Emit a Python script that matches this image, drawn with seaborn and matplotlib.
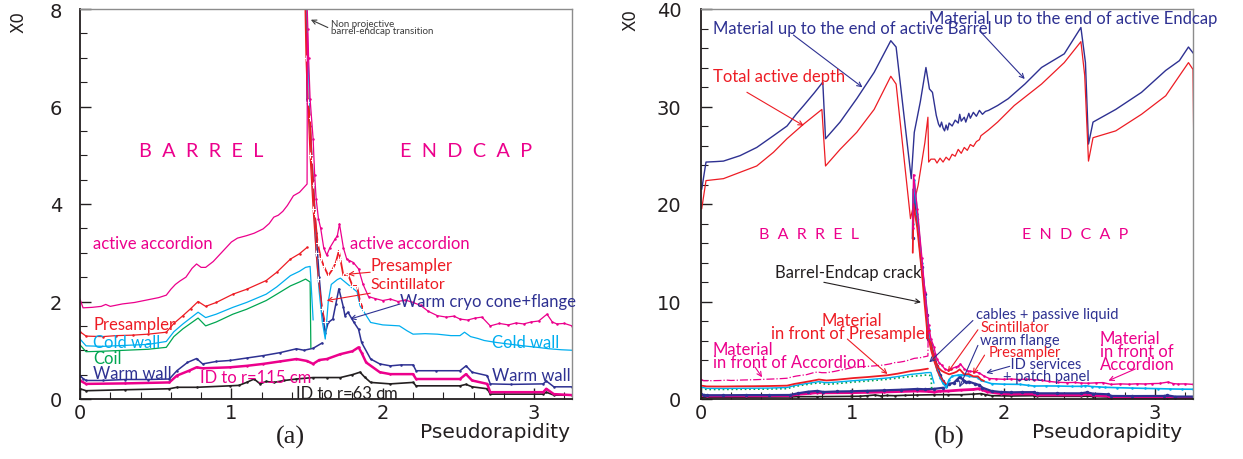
import numpy as np
import pandas as pd
import matplotlib
matplotlib.use("Agg")
import matplotlib.pyplot as plt
from matplotlib.ticker import MultipleLocator
import seaborn as sns

# ---------------- material profiles (X0 versus pseudorapidity) ----------------
# cumulative material in front of the active accordion, barrel side
acc_barrel_eta = [0.0, 0.02, 0.08, 0.14, 0.17, 0.20, 0.28, 0.36, 0.44, 0.52, 0.57, 0.60, 0.63, 0.66,
                  0.70, 0.74, 0.77, 0.80, 0.83, 0.88, 0.94, 1.00, 1.04, 1.10, 1.15, 1.21, 1.25, 1.28,
                  1.31, 1.34, 1.37, 1.41, 1.45, 1.50, 1.502]
acc_barrel_x0 = [2.05, 1.87, 1.88, 1.90, 1.94, 1.90, 1.95, 1.98, 2.03, 2.08, 2.13, 2.25, 2.35, 2.42,
                 2.50, 2.68, 2.77, 2.70, 2.70, 2.82, 3.02, 3.22, 3.30, 3.35, 3.40, 3.49, 3.60, 3.73,
                 3.77, 3.85, 3.97, 4.17, 4.24, 4.41, 7.5]
# crack peak and endcap side
acc_endcap_eta = [1.40, 1.405, 1.43, 1.46, 1.48, 1.495, 1.505, 1.51, 1.52, 1.54, 1.55, 1.56, 1.575,
                  1.59, 1.61, 1.63, 1.65, 1.685, 1.70, 1.714, 1.74, 1.762, 1.78, 1.806, 1.84, 1.87,
                  1.906, 1.95, 2.00, 2.05, 2.10, 2.15, 2.20, 2.25, 2.30, 2.36, 2.42, 2.47, 2.51,
                  2.56, 2.61, 2.655, 2.71, 2.77, 2.83, 2.88, 2.93, 2.98, 3.03, 3.085, 3.12, 3.15,
                  3.20, 3.25]
acc_endcap_x0 = [17.5, 23.0, 19.5, 14.5, 11.0, 8.6, 7.6, 7.0, 6.15, 5.33, 4.6, 4.1, 3.7,
                 3.5, 3.1, 2.95, 3.1, 3.28, 3.35, 3.59, 3.1, 2.87, 2.84, 2.80, 2.67, 2.35,
                 2.10, 2.06, 2.02, 2.05, 2.00, 2.03, 1.98, 1.92, 1.80, 1.71, 1.68, 1.70, 1.64,
                 1.62, 1.66, 1.68, 1.50, 1.55, 1.52, 1.56, 1.54, 1.58, 1.60, 1.74, 1.58, 1.54,
                 1.55, 1.50]

# presampler
ps_barrel_eta = [0.0, 0.04, 0.15, 0.24, 0.35, 0.45, 0.57, 0.62, 0.68, 0.73, 0.78, 0.83, 0.90,
                 1.01, 1.10, 1.23, 1.30, 1.39, 1.45, 1.50]
ps_barrel_x0 = [1.38, 1.29, 1.28, 1.30, 1.31, 1.33, 1.37, 1.55, 1.71, 1.85, 2.00, 1.90, 1.98,
                2.15, 2.25, 2.43, 2.60, 2.87, 2.98, 3.11]
ps_endcap_eta = [1.40, 1.405, 1.43, 1.46, 1.48, 1.495, 1.505, 1.52, 1.53, 1.54, 1.55, 1.57, 1.59,
                 1.61, 1.64, 1.67, 1.69, 1.71, 1.72, 1.74, 1.77, 1.80, 1.83, 1.85, 1.87]
ps_endcap_x0 = [15.0, 20.0, 17.5, 13.0, 9.5, 7.0, 6.1, 5.76, 4.9, 4.4, 3.8, 3.2, 2.9,
                2.73, 2.53, 2.67, 2.80, 3.04, 2.87, 2.53, 2.56, 2.32, 2.32, 2.0, 1.85]

# scintillator in the crack
scint_eta = [1.505, 1.52, 1.54, 1.56, 1.575, 1.60, 1.62]
scint_x0 = [6.1, 5.0, 3.9, 3.0, 2.46, 1.85, 1.57]

# cold wall
cw_barrel_eta = [0.0, 0.04, 0.15, 0.30, 0.45, 0.57, 0.62, 0.68, 0.73, 0.78, 0.83, 0.90, 1.01,
                 1.10, 1.23, 1.30, 1.39, 1.45, 1.49, 1.52, 1.54]
cw_barrel_x0 = [1.23, 1.09, 1.08, 1.10, 1.12, 1.18, 1.38, 1.54, 1.66, 1.78, 1.67, 1.74, 1.88,
                1.98, 2.15, 2.30, 2.53, 2.62, 2.70, 2.72, 1.62]
cw_endcap_eta = [1.40, 1.41, 1.43, 1.46, 1.48, 1.495, 1.505, 1.52, 1.54, 1.56, 1.58, 1.60, 1.62,
                 1.64, 1.66, 1.70, 1.72, 1.77, 1.83, 1.85, 1.92, 2.00, 2.11, 2.16, 2.20, 2.28,
                 2.36, 2.45, 2.51, 2.54, 2.58, 2.63, 2.67, 2.75, 2.85, 2.93, 3.02, 3.10, 3.18, 3.25]
cw_endcap_x0 = [18.0, 22.5, 19.0, 14.0, 10.5, 8.2, 7.2, 5.6, 4.2, 3.0, 2.2, 1.6, 1.23,
                2.0, 2.35, 2.45, 2.48, 2.35, 2.2, 1.91, 1.57, 1.52, 1.50, 1.40, 1.33, 1.34,
                1.33, 1.30, 1.30, 1.37, 1.28, 1.24, 1.20, 1.16, 1.12, 1.09, 1.06, 1.03, 1.01, 1.00]

# solenoid coil (barrel only)
coil_eta = [0.0, 0.04, 0.15, 0.30, 0.45, 0.57, 0.62, 0.68, 0.73, 0.78, 0.83, 0.90, 1.01, 1.10,
            1.23, 1.30, 1.39, 1.45, 1.49, 1.52, 1.525]
coil_x0 = [1.11, 0.97, 0.98, 1.00, 1.02, 1.06, 1.28, 1.44, 1.55, 1.66, 1.50, 1.58, 1.74, 1.84,
           2.02, 2.15, 2.32, 2.40, 2.46, 2.40, 1.05]

# warm wall / warm cryostat cone + flange
ww_barrel_eta = [0.0, 0.02, 0.04, 0.15, 0.30, 0.45, 0.59, 0.64, 0.71, 0.77, 0.81, 0.90, 0.99,
                 1.10, 1.21, 1.32, 1.43, 1.48, 1.54, 1.60]
ww_barrel_x0 = [0.48, 0.42, 0.38, 0.38, 0.40, 0.40, 0.41, 0.58, 0.75, 0.83, 0.72, 0.77, 0.79,
                0.84, 0.89, 0.95, 1.03, 1.00, 1.04, 1.15]
ww_endcap_eta = [1.40, 1.405, 1.43, 1.46, 1.48, 1.495, 1.50, 1.52, 1.54, 1.56, 1.58, 1.60, 1.62,
                 1.64, 1.67, 1.69, 1.71, 1.74, 1.75, 1.77, 1.81, 1.84, 1.86, 1.92, 1.98, 2.05,
                 2.12, 2.20, 2.22, 2.35, 2.51, 2.55, 2.59, 2.69, 2.71, 2.85, 3.06, 3.08, 3.13, 3.25]
ww_endcap_x0 = [16.5, 21.5, 18.5, 13.5, 10.8, 8.6, 6.15, 5.6, 4.5, 3.4, 2.5, 1.8, 1.35,
                1.57, 1.64, 1.95, 2.26, 1.88, 1.71, 1.78, 1.57, 1.43, 1.16, 0.82, 0.72, 0.68,
                0.70, 0.70, 0.58, 0.58, 0.58, 0.68, 0.55, 0.48, 0.31, 0.30, 0.31, 0.37, 0.25, 0.25]

# inner detector up to r = 115 cm
id115_eta = [0.0, 0.04, 0.30, 0.59, 0.64, 0.72, 0.77, 0.81, 0.99, 1.10, 1.21, 1.32, 1.43, 1.50,
             1.54, 1.58, 1.63, 1.72, 1.80, 1.84, 1.86, 1.89, 1.98, 2.05, 2.20, 2.22, 2.51, 2.55,
             2.59, 2.69, 2.71, 3.06, 3.08, 3.13, 3.25]
id115_x0 = [0.38, 0.31, 0.32, 0.34, 0.48, 0.58, 0.65, 0.63, 0.65, 0.68, 0.72, 0.77, 0.82, 0.78,
            0.72, 0.80, 0.82, 0.92, 0.98, 1.06, 0.95, 0.75, 0.55, 0.51, 0.51, 0.41, 0.41, 0.51,
            0.38, 0.31, 0.14, 0.14, 0.21, 0.10, 0.08]

# inner detector up to r = 63 cm
id63_eta = [0.0, 0.04, 0.30, 0.59, 0.64, 0.77, 0.99, 1.05, 1.10, 1.15, 1.19, 1.23, 1.28, 1.35,
            1.43, 1.54, 1.63, 1.72, 1.80, 1.85, 1.88, 1.92, 2.05, 2.20, 2.22, 2.51, 2.55, 2.59,
            2.69, 2.71, 3.06, 3.08, 3.13, 3.25]
id63_x0 = [0.21, 0.17, 0.19, 0.21, 0.24, 0.24, 0.27, 0.28, 0.34, 0.41, 0.31, 0.36, 0.34, 0.38,
           0.41, 0.44, 0.44, 0.44, 0.50, 0.55, 0.45, 0.34, 0.31, 0.34, 0.27, 0.27, 0.30, 0.25,
           0.21, 0.10, 0.10, 0.14, 0.08, 0.08]

# material up to the end of the active calorimeter
tot_eta = [0.0066, 0.035, 0.10, 0.15, 0.26, 0.37, 0.48, 0.57, 0.63, 0.68, 0.75, 0.806, 0.824,
           0.92, 1.03, 1.145, 1.255, 1.29, 1.39, 1.41, 1.45, 1.487, 1.51, 1.53, 1.555, 1.57,
           1.58, 1.59, 1.60, 1.61, 1.62, 1.63, 1.64, 1.66, 1.68, 1.70, 1.71, 1.72, 1.74, 1.75,
           1.77, 1.78, 1.80, 1.82, 1.84, 1.86, 1.88, 1.90, 1.96, 2.03, 2.14, 2.25, 2.40, 2.51,
           2.54, 2.56, 2.59, 2.74, 2.91, 3.07, 3.16, 3.22, 3.255, 3.26]
tot_x0 = [21.5, 24.3, 24.35, 24.4, 24.96, 25.8, 27.0, 28.0, 29.2, 30.1, 31.4, 32.5, 26.7,
          28.4, 30.8, 33.5, 36.75, 36.1, 22.6, 27.35, 30.5, 34.0, 31.8, 31.45, 29.1, 28.2,
          27.9, 28.4, 27.8, 27.5, 28.1, 27.6, 28.3, 28.0, 28.6, 28.3, 29.2, 28.5, 28.9, 28.4,
          29.3, 28.8, 29.4, 29.0, 29.6, 29.2, 29.5, 29.6, 30.1, 30.8, 32.3, 34.0, 35.4, 38.1,
          34.5, 26.15, 28.4, 29.7, 31.45, 33.7, 34.7, 36.1, 35.4, 20.5]

# total active depth
act_eta = [0.0066, 0.035, 0.15, 0.26, 0.37, 0.48, 0.57, 0.68, 0.80, 0.824, 0.92, 1.03, 1.145,
           1.255, 1.29, 1.385, 1.435, 1.48, 1.50, 1.505, 1.52, 1.545, 1.56, 1.58, 1.60, 1.62,
           1.64, 1.66, 1.68, 1.70, 1.72, 1.74, 1.76, 1.78, 1.80, 1.82, 1.84, 1.85, 1.90, 1.96,
           2.07, 2.25, 2.40, 2.51, 2.535, 2.56, 2.59, 2.74, 2.91, 3.07, 3.22, 3.25, 3.26]
act_x0 = [19.5, 22.4, 22.6, 23.25, 23.9, 25.3, 26.7, 28.2, 29.7, 23.9, 25.6, 27.35, 29.7,
          33.1, 32.3, 18.5, 21.9, 26.3, 28.9, 24.3, 24.6, 24.6, 24.2, 24.7, 24.3, 24.8,
          24.5, 25.1, 24.9, 25.6, 25.2, 25.8, 25.5, 26.1, 25.9, 26.4, 26.6, 27.0, 27.6, 28.4,
          30.1, 32.3, 34.5, 36.65, 33.2, 24.4, 26.8, 27.5, 29.2, 31.1, 34.5, 33.8, 19.1]

# ---------------- style ----------------
sns.set_theme(style="ticks")
plt.rcParams['font.family'] = ['DejaVu Sans']
plt.rcParams['axes.linewidth'] = 1.2

MAGENTA = '#ec008c'
RED = '#ed1c24'
CYAN = '#00aeef'
GREEN = '#00a651'
NAVY = '#2e3192'
BLACK = '#231f20'
LABEL_FONT = ['Lato', 'DejaVu Sans']

W, H = 1243, 460
fig = plt.figure(figsize=(W / 100, H / 100), dpi=100)
axA = fig.add_axes([80 / W, 60 / H, 492 / W, 390 / H])
axB = fig.add_axes([700.7 / W, 60 / H, 492.3 / W, 390 / H])


def trace(ax, eta, x0, color, lw=0.9, **kw):
    sns.lineplot(x=np.asarray(eta), y=np.asarray(x0), ax=ax, sort=False, estimator=None,
                 color=color, linewidth=lw, legend=False, **kw)


def style_axes(ax, ymax, ymaj, ymin, ypad):
    ax.set_xlim(0, 3.25)
    ax.set_ylim(0, ymax)
    ax.xaxis.set_major_locator(MultipleLocator(1))
    ax.xaxis.set_minor_locator(MultipleLocator(0.2))
    ax.yaxis.set_major_locator(MultipleLocator(ymaj))
    ax.yaxis.set_minor_locator(MultipleLocator(ymin))
    ax.tick_params(which='both', direction='in', top=False, right=False,
                   labelsize=14, labelcolor=BLACK, color=BLACK)
    ax.tick_params(which='major', length=8, width=1)
    ax.tick_params(which='minor', length=5, width=0.8)
    ax.tick_params(axis='x', pad=3)
    ax.tick_params(axis='y', pad=ypad)
    for s in ('top', 'right'):
        ax.spines[s].set_color('#8c8c8c')
        ax.spines[s].set_linewidth(1.0)
    for s in ('left', 'bottom'):
        ax.spines[s].set_color(BLACK)
        ax.spines[s].set_linewidth(1.3)
    ax.set_xlabel('')
    ax.set_ylabel('')


def label(ax, x, y, s, color, size=12, ha='left', **kw):
    ax.text(x, y, s, color=color, fontsize=size, ha=ha, va='center',
            fontfamily=LABEL_FONT, linespacing=0.78, **kw)


def arrow(ax, tail, head, color):
    ax.annotate('', xy=head, xytext=tail,
                arrowprops=dict(arrowstyle='->', color=color, lw=0.8,
                                mutation_scale=8, shrinkA=0, shrinkB=0))


# ---------------- panel (a): material in front of the calorimeter ----------------
ms = dict(marker='o', markersize=1.8, markeredgewidth=0)
trace(axA, id63_eta, id63_x0, BLACK, lw=1.2, **ms)
trace(axA, id115_eta, id115_x0, MAGENTA, lw=1.8, **ms)
trace(axA, ww_barrel_eta, ww_barrel_x0, NAVY, lw=1.1, **ms)
trace(axA, ww_endcap_eta, ww_endcap_x0, NAVY, lw=1.1, **ms)
trace(axA, coil_eta, coil_x0, GREEN, lw=0.9)
trace(axA, cw_barrel_eta, cw_barrel_x0, CYAN, lw=0.9)
trace(axA, cw_endcap_eta, cw_endcap_x0, CYAN, lw=0.9)
trace(axA, ps_barrel_eta, ps_barrel_x0, RED, lw=0.9, **ms)
trace(axA, ps_endcap_eta, ps_endcap_x0, RED, lw=1.3, marker='+', markersize=4)
trace(axA, scint_eta, scint_x0, RED, lw=0.9, marker='+', markersize=4)
trace(axA, acc_barrel_eta, acc_barrel_x0, MAGENTA, lw=0.9)
trace(axA, acc_endcap_eta, acc_endcap_x0, MAGENTA, lw=0.9, **ms)
style_axes(axA, 8, 2, 0.5, 13)

label(axA, 0.80, 5.09, 'B  A  R  R  E  L', MAGENTA, size=14.3, ha='center')
label(axA, 2.55, 5.09, 'E  N  D  C  A  P', MAGENTA, size=14.3, ha='center')
label(axA, 0.086, 3.2, 'active accordion', MAGENTA)
label(axA, 1.785, 3.2, 'active accordion', MAGENTA)
label(axA, 0.086, 1.54, 'Presampler', RED)
label(axA, 0.086, 1.17, 'Cold wall', CYAN)
label(axA, 0.086, 0.84, 'Coil', GREEN)
label(axA, 0.086, 0.53, 'Warm wall', NAVY)
label(axA, 0.79, 0.45, 'ID to r=115 cm', MAGENTA)
label(axA, 1.43, 0.13, 'ID to r=63 cm', BLACK)
label(axA, 1.917, 2.75, 'Presampler', RED)
arrow(axA, (1.917, 2.6), (1.771, 2.56), RED)
label(axA, 1.917, 2.36, 'Scintillator', RED, size=11.5)
arrow(axA, (1.917, 2.17), (1.63, 2.02), RED)
label(axA, 2.115, 2.02, 'Warm cryo cone+flange', NAVY, clip_on=False)
arrow(axA, (2.115, 1.95), (1.785, 1.64), NAVY)
label(axA, 2.72, 1.17, 'Cold wall', CYAN)
label(axA, 2.72, 0.49, 'Warm wall', NAVY)
label(axA, 1.66, 7.63, 'Non projective\nbarrel-endcap transition', '#3a3a3a', size=7)
arrow(axA, (1.637, 7.62), (1.525, 7.78), '#3a3a3a')

# ---------------- panel (b): total material ----------------
trace(axB, tot_eta, tot_x0, NAVY, lw=1.0)
trace(axB, act_eta, act_x0, RED, lw=0.9)
trace(axB, id63_eta, id63_x0, BLACK, lw=1.2, **ms)
trace(axB, id115_eta, id115_x0, MAGENTA, lw=2.0, **ms)
trace(axB, ww_barrel_eta, ww_barrel_x0, NAVY, lw=1.6, marker='o', markersize=2.5, markeredgewidth=0)
trace(axB, ww_endcap_eta, ww_endcap_x0, NAVY, lw=1.6, marker='o', markersize=2.5, markeredgewidth=0)
trace(axB, coil_eta, coil_x0, GREEN, lw=1.2, linestyle=':')
trace(axB, cw_barrel_eta, cw_barrel_x0, CYAN, lw=1.0)
trace(axB, cw_endcap_eta, cw_endcap_x0, CYAN, lw=1.2, **ms)
trace(axB, ps_barrel_eta, ps_barrel_x0, RED, lw=1.3)
trace(axB, ps_endcap_eta, ps_endcap_x0, RED, lw=1.3)
trace(axB, scint_eta, scint_x0, RED, lw=1.0)
trace(axB, acc_barrel_eta, acc_barrel_x0, MAGENTA, lw=0.9, linestyle='-.')
trace(axB, acc_endcap_eta, acc_endcap_x0, MAGENTA, lw=1.0, **ms)
style_axes(axB, 40, 10, 2, 14)

label(axB, 0.08, 38.05, 'Material up to the end of active Barrel', NAVY)
arrow(axB, (0.612, 37.33), (1.068, 31.97), NAVY)
label(axB, 1.507, 39.08, 'Material up to the end of active Endcap', NAVY, clip_on=False)
arrow(axB, (1.841, 37.77), (2.139, 32.82), NAVY)
label(axB, 0.08, 33.16, 'Total active depth', RED)
arrow(axB, (0.305, 31.46), (0.68, 28.03), RED)
label(axB, 0.717, 16.92, 'B  A  R  R  E  L', MAGENTA, size=11.5, ha='center')
label(axB, 2.475, 16.92, 'E  N  D  C  A  P', MAGENTA, size=11.5, ha='center')
label(axB, 0.493, 13.03, 'Barrel-Endcap crack', BLACK)
arrow(axB, (0.813, 11.97), (1.454, 9.92), BLACK)
label(axB, 0.995, 7.45, 'Material\nin front of Presampler', RED, ha='center', multialignment='center')
arrow(axB, (0.968, 6.15), (1.233, 2.56), RED)
label(axB, 0.08, 4.48, 'Material\nin front of Accordion', MAGENTA)
arrow(axB, (0.36, 3.25), (0.405, 2.23), MAGENTA)

# crack-region stack of labels
stack = 10.5
label(axB, 1.819, 8.72, 'cables + passive liquid', NAVY, size=stack)
arrow(axB, (1.797, 8.05), (1.509, 3.76), NAVY)
label(axB, 1.845, 7.38, 'Scintillator', RED, size=stack)
arrow(axB, (1.83, 7.1), (1.631, 2.74), RED)
label(axB, 1.845, 6.1, 'warm flange', NAVY, size=stack)
arrow(axB, (1.83, 5.5), (1.708, 1.2), NAVY)
label(axB, 1.899, 4.85, 'Presampler', RED, size=stack)
arrow(axB, (1.874, 4.5), (1.797, 2.56), RED)
label(axB, 1.998, 2.95, '  ID services\n+ patch panel', NAVY, size=stack)
arrow(axB, (2.04, 3.35), (1.885, 2.67), NAVY)
label(axB, 2.635, 4.92, 'Material\nin front of\nAccordion', MAGENTA)
arrow(axB, (2.869, 3.08), (2.692, 1.88), MAGENTA)

# ---------------- axis titles and panel tags ----------------
for px, py in ((18, 22), (631, 20)):
    fig.text(px / W, 1 - py / H, 'X0', rotation=90, ha='center', va='center',
             fontsize=12, color=BLACK)
for px, tag in ((495, 'Pseudorapidity'), (1107, 'Pseudorapidity')):
    fig.text(px / W, 1 - 433 / H, tag, ha='center', va='center', fontsize=14.5, color=BLACK)
for px, tag in ((290, '(a)'), (949, '(b)')):
    fig.text(px / W, 1 - 437 / H, tag, ha='center', va='center', fontsize=19,
             color=BLACK, fontfamily=['Liberation Serif', 'DejaVu Serif'])

fig.savefig('out.png', dpi=100)
